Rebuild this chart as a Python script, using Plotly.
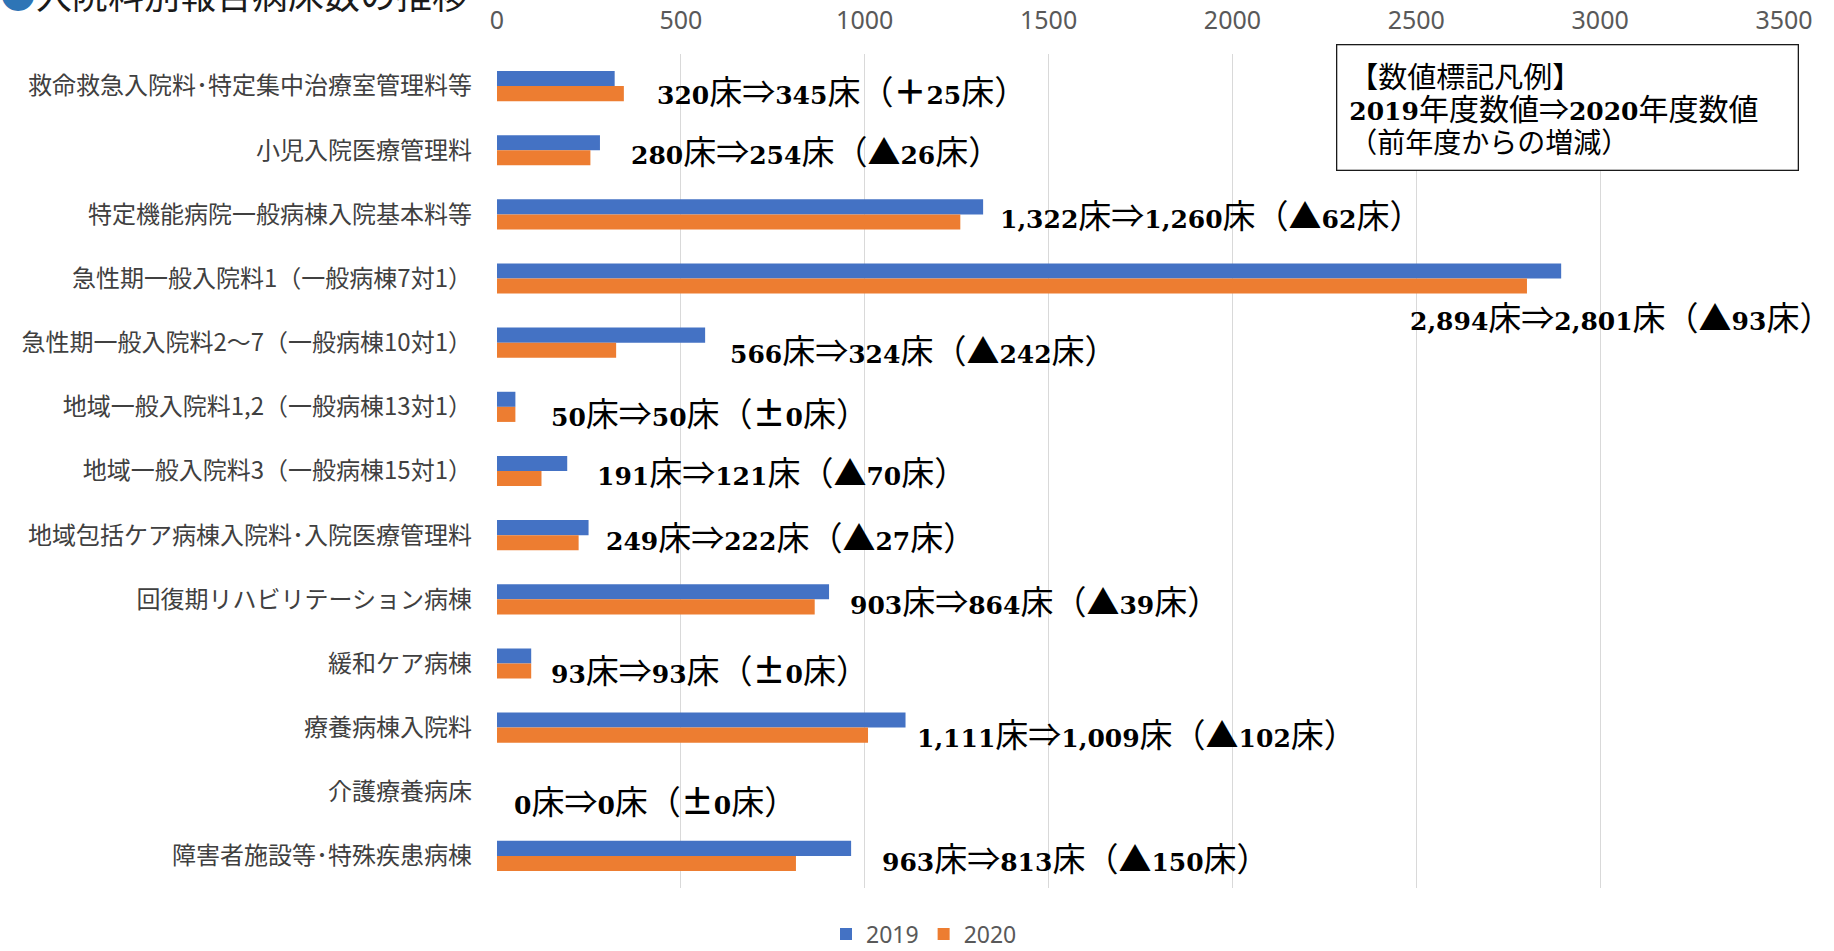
import plotly.graph_objects as go

# 入院料別の報告病床数（2019年度・2020年度）
categories = [
    "救命救急入院料･特定集中治療室管理料等",
    "小児入院医療管理料",
    "特定機能病院一般病棟入院基本料等",
    "急性期一般入院料1（一般病棟7対1）",
    "急性期一般入院料2～7（一般病棟10対1）",
    "地域一般入院料1,2（一般病棟13対1）",
    "地域一般入院料3（一般病棟15対1）",
    "地域包括ケア病棟入院料･入院医療管理料",
    "回復期リハビリテーション病棟",
    "緩和ケア病棟",
    "療養病棟入院料",
    "介護療養病床",
    "障害者施設等･特殊疾患病棟",
]
beds_2019 = [320, 280, 1322, 2894, 566, 50, 191, 249, 903, 93, 1111, 0, 963]
beds_2020 = [345, 254, 1260, 2801, 324, 50, 121, 222, 864, 93, 1009, 0, 813]
x_ticks = [0, 500, 1000, 1500, 2000, 2500, 3000, 3500]

# label placement (pixel shifts from the end of the longer bar)
label_xshift = [31, 29, 15, 273, 23, 34, 28, 15, 19, 18, 9, 15, 29]
label_yshift = [-4, 0, 0, -37, -6, -5, 0, -1, -1, -6, -5, -8, -1]

W, H = 1834, 951
L, R, T, B = 497, 50, 54, 63
PW, PH = W - L - R, H - T - B


def px_x(px):
    return (px - L) / PW


def px_y(py):
    return (H - B - py) / PH


BLUE = "#4472C4"
ORANGE = "#ED7D31"

fig = go.Figure()
fig.add_trace(go.Bar(y=categories, x=beds_2019, orientation="h", name="2019",
                     marker=dict(color=BLUE, line=dict(width=0))))
fig.add_trace(go.Bar(y=categories, x=beds_2020, orientation="h", name="2020",
                     marker=dict(color=ORANGE, line=dict(width=0))))


def cj(s, size):
    # full-width characters in a larger CJK face
    return f"<span style='font-size:{size}px;font-family:Noto Sans CJK JP'>{s}</span>"


def change_text(a, b, size=33):
    d = b - a
    if d > 0:
        sign = "＋"
    elif d < 0:
        sign = "▲"
    else:
        sign = "±"
    return (f"<b>{a:,}</b>{cj('床⇒', size)}<b>{b:,}</b>{cj('床（', size)}"
            f"<b>{cj(sign, size)}{abs(d)}</b>{cj('床）', size)}")


annotations = []
for i, cat in enumerate(categories):
    a, b = beds_2019[i], beds_2020[i]
    right = i == 3
    annotations.append(dict(
        x=max(a, b), y=cat, xref="x", yref="y",
        text=change_text(a, b), showarrow=False,
        xanchor="right" if right else "left", yanchor="middle",
        xshift=label_xshift[i], yshift=label_yshift[i],
        font=dict(family="DejaVu Serif, Noto Sans CJK JP", size=25, color="#000000"),
    ))

# 数値標記凡例
annotations.append(dict(
    x=px_x(1336), y=px_y(44), xref="paper", yref="paper",
    xanchor="left", yanchor="top", showarrow=False, align="left",
    text=(cj("【数値標記凡例】", 29) + "<br>"
          + "<b>2019</b>" + cj("年度数値⇒", 30) + "<b>2020</b>" + cj("年度数値", 30) + "<br>"
          + cj("（前年度からの増減）", 28)),
    font=dict(family="DejaVu Serif, Noto Sans CJK JP", size=25, color="#000000"),
    bordercolor="#1a1a1a", borderwidth=1.3, borderpad=12, bgcolor="#ffffff",
    width=436, height=100,
))

# タイトル
annotations.append(dict(
    x=px_x(-2), y=px_y(-7), xref="paper", yref="paper",
    xanchor="left", yanchor="middle", showarrow=False,
    text="<span style='color:#2E75B6'>●</span>入院料別報告病床数の推移",
    font=dict(family="Noto Sans CJK JP", size=36, color="#1a1a1a"),
))

fig.update_layout(
    width=W, height=H,
    margin=dict(l=L, r=R, t=T, b=B, autoexpand=False),
    paper_bgcolor="#ffffff", plot_bgcolor="#ffffff",
    barmode="group", bargap=0.53, bargroupgap=0,
    font=dict(family="Noto Sans CJK JP", color="#404040"),
    showlegend=True,
    legend=dict(orientation="h", traceorder="normal",
                x=px_x(924), xanchor="center",
                y=px_y(934), yanchor="middle",
                font=dict(family="Noto Sans", size=23, color="#595959"),
                itemwidth=30, tracegroupgap=0, bgcolor="rgba(0,0,0,0)"),
    annotations=annotations,
)
fig.update_xaxes(
    side="top", range=[0, 3500], tickvals=x_ticks,
    ticktext=[str(v) for v in x_ticks],
    showgrid=True, gridcolor="#d9d9d9", gridwidth=1.3,
    zeroline=False, showline=False, ticks="",
    tickfont=dict(family="Noto Sans", size=25, color="#595959"),
    ticklabelstandoff=19,
)
fig.update_yaxes(
    categoryorder="array", categoryarray=categories, autorange="reversed",
    showgrid=False, zeroline=False, showline=False, ticks="",
    tickfont=dict(family="Noto Sans CJK JP", size=24, color="#404040"),
    ticklabelstandoff=24,
)

fig.write_html("out.html")
